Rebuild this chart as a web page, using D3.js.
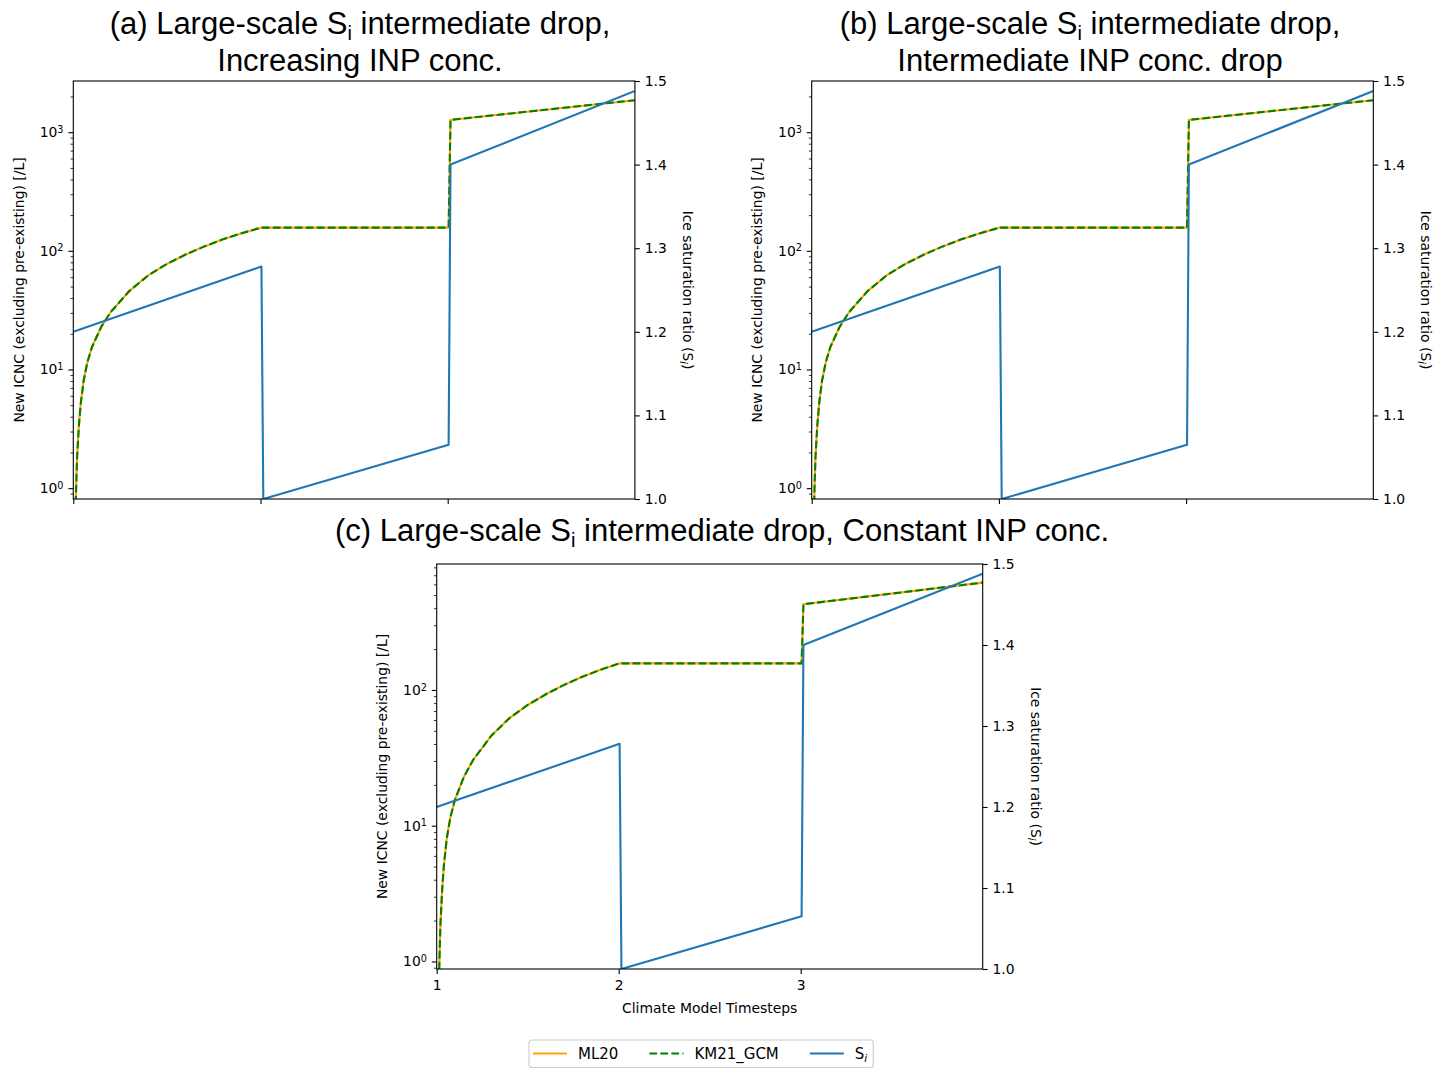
<!DOCTYPE html>
<html>
<head>
<meta charset="utf-8">
<script src="https://cdn.jsdelivr.net/npm/d3@7"></script>
<style>
  body { margin: 0; background: #fff; }
  svg { display: block; }
</style>
</head>
<body>
<script>
// climate model timesteps (x axis)
const timeTicks = [1, 2, 3];
const timeDomain = [1, 4];

// large-scale ice saturation ratio S_i (same forcing in all three cases)
const siTime = [1.0, 2.005, 2.015, 3.005, 3.015, 4.0];
const siValues = [1.200, 1.278, 1.000, 1.065, 1.400, 1.488];
const siTicks = [1.0, 1.1, 1.2, 1.3, 1.4, 1.5];

// new ICNC [/L], sample times
const icncTime = [1.012, 1.015, 1.02, 1.03, 1.04, 1.055, 1.075, 1.1, 1.15, 1.2,
                  1.3, 1.4, 1.5, 1.6, 1.7, 1.8, 1.9, 2.005, 3.005, 3.015, 4.0];
// (a) increasing INP conc. / (b) intermediate INP conc. drop
const ml20AB = [0.6, 1.0, 1.8, 3.4, 5.2, 8.0, 11.5, 15.5, 23, 30.5,
                46, 62, 77.5, 93, 109, 125, 141, 157, 157, 1270, 1860];
const km21AB = [0.6, 1.0, 1.8, 3.4, 5.2, 8.0, 11.5, 15.5, 23, 30.5,
                46, 62, 77.5, 93, 109, 125, 141, 157, 157, 1270, 1860];
// (c) constant INP conc.
const ml20C = [0.6, 1.0, 1.8, 3.4, 5.2, 8.0, 11.5, 15.5, 23, 30.5,
               46, 62, 77.5, 93, 109, 125, 141, 157, 157, 428, 618];
const km21C = [0.6, 1.0, 1.8, 3.4, 5.2, 8.0, 11.5, 15.5, 23, 30.5,
               46, 62, 77.5, 93, 109, 125, 141, 157, 157, 428, 618];

const legendLabels = ["ML20", "KM21_GCM", "S"];

const colors = { ml20: "#ffa500", km21: "#008000", si: "#1f77b4" };
const tickFont = "'DejaVu Sans', sans-serif";
const titleFont = "'Liberation Sans', Arial, Helvetica, sans-serif";
const lw = 2.1;

const panels = [
    {
        id: "a", left: 73.3, right: 634.9, top: 81, bottom: 499,
        yLim: [0.81, 2700], ml20: ml20AB, km21: km21AB,
        titleX: 360, titleY: [34, 71], xLabels: false,
        title: [
            [["(a) Large-scale S"], ["i", "sub"], [" intermediate drop,"]],
            [["Increasing INP conc."]]
        ]
    },
    {
        id: "b", left: 811.7, right: 1373.3, top: 81, bottom: 499,
        yLim: [0.81, 2700], ml20: ml20AB, km21: km21AB,
        titleX: 1090, titleY: [34, 71], xLabels: false,
        title: [
            [["(b) Large-scale S"], ["i", "sub"], [" intermediate drop,"]],
            [["Intermediate INP conc. drop"]]
        ]
    },
    {
        id: "c", left: 436.7, right: 982.7, top: 564, bottom: 969,
        yLim: [0.88, 847], ml20: ml20C, km21: km21C,
        titleX: 722, titleY: [541], xLabels: true,
        title: [
            [["(c) Large-scale S"], ["i", "sub"], [" intermediate drop, Constant INP conc."]]
        ]
    }
];

const svg = d3.select("body")
    .append("svg")
    .attr("width", 1446)
    .attr("height", 1082);

svg.append("rect")
    .attr("width", 1446)
    .attr("height", 1082)
    .attr("fill", "#fff");

function styleAxis(sel) {
    sel.select(".domain").remove();
    sel.selectAll(".tick line").attr("stroke", "#000").attr("stroke-width", 1.1);
    sel.selectAll(".tick text")
        .attr("fill", "#000")
        .attr("font-family", tickFont)
        .attr("font-size", 13.9);
}

function drawPanel(p) {
    const g = svg.append("g").attr("id", "panel-" + p.id);

    const x = d3.scaleLinear().domain(timeDomain).range([p.left, p.right]);
    const yL = d3.scaleLog().domain(p.yLim).range([p.bottom, p.top]);
    const yR = d3.scaleLinear().domain([1.0, 1.5]).range([p.bottom, p.top]);

    // clip lines to the axes box
    g.append("defs").append("clipPath").attr("id", "clip-" + p.id)
        .append("rect")
        .attr("x", p.left).attr("y", p.top)
        .attr("width", p.right - p.left)
        .attr("height", p.bottom - p.top);

    const plot = g.append("g").attr("clip-path", `url(#clip-${p.id})`);

    const icncLine = d3.line()
        .x((d, i) => x(icncTime[i]))
        .y(d => yL(d));
    plot.append("path")
        .datum(p.ml20)
        .attr("d", icncLine)
        .attr("fill", "none")
        .attr("stroke", colors.ml20)
        .attr("stroke-width", lw);
    plot.append("path")
        .datum(p.km21)
        .attr("d", icncLine)
        .attr("fill", "none")
        .attr("stroke", colors.km21)
        .attr("stroke-width", lw)
        .attr("stroke-dasharray", "7.7,3.3");

    // twin axis: S_i drawn on top
    const siLine = d3.line()
        .x((d, i) => x(siTime[i]))
        .y(d => yR(d));
    plot.append("path")
        .datum(siValues)
        .attr("d", siLine)
        .attr("fill", "none")
        .attr("stroke", colors.si)
        .attr("stroke-width", lw)
        .attr("stroke-linejoin", "round");

    // log ticks: majors at decades, minors in between
    const allTicks = yL.ticks();
    const majors = allTicks.filter(d => Math.abs(Math.log10(d) - Math.round(Math.log10(d))) < 1e-9);
    const minors = allTicks.filter(d => !majors.includes(d));

    const minorAxis = g.append("g")
        .attr("transform", `translate(${p.left},0)`)
        .call(d3.axisLeft(yL).tickValues(minors).tickSize(2.8).tickSizeOuter(0).tickFormat(""));
    styleAxis(minorAxis);
    minorAxis.selectAll(".tick line").attr("stroke-width", 0.8);

    const leftAxis = g.append("g")
        .attr("transform", `translate(${p.left},0)`)
        .call(d3.axisLeft(yL).tickValues(majors).tickSize(4.9).tickSizeOuter(0).tickPadding(4.9));
    styleAxis(leftAxis);
    leftAxis.selectAll(".tick text")
        .text(null)
        .each(function (d) {
            const t = d3.select(this);
            t.append("tspan").text("10");
            t.append("tspan")
                .attr("dy", "-0.45em")
                .attr("font-size", 9.7)
                .text(Math.round(Math.log10(d)));
        });

    const rightAxis = g.append("g")
        .attr("transform", `translate(${p.right},0)`)
        .call(d3.axisRight(yR).tickValues(siTicks).tickSize(4.9).tickSizeOuter(0)
            .tickPadding(4.9).tickFormat(d3.format(".1f")));
    styleAxis(rightAxis);

    const bottomAxis = g.append("g")
        .attr("transform", `translate(0,${p.bottom})`)
        .call(d3.axisBottom(x).tickValues(timeTicks).tickSize(4.9).tickSizeOuter(0)
            .tickPadding(6).tickFormat(p.xLabels ? d3.format("d") : ""));
    styleAxis(bottomAxis);

    // spines
    g.append("rect")
        .attr("x", p.left).attr("y", p.top)
        .attr("width", p.right - p.left)
        .attr("height", p.bottom - p.top)
        .attr("fill", "none")
        .attr("stroke", "#000")
        .attr("stroke-width", 1.1);

    const midY = (p.top + p.bottom) / 2;

    // left label
    g.append("text")
        .attr("transform", `translate(${p.left - 49.5},${midY}) rotate(-90)`)
        .attr("text-anchor", "middle")
        .attr("font-family", tickFont)
        .attr("font-size", 13.9)
        .text("New ICNC (excluding pre-existing) [/L]");

    // right label
    const rl = g.append("text")
        .attr("transform", `translate(${p.right + 48},${midY}) rotate(90)`)
        .attr("text-anchor", "middle")
        .attr("font-family", tickFont)
        .attr("font-size", 13.9);
    rl.append("tspan").text("Ice saturation ratio (S");
    rl.append("tspan").attr("dy", 3).attr("font-size", 9.7).attr("font-style", "italic").text("i");
    rl.append("tspan").attr("dy", -3).text(")");

    if (p.xLabels) {
        g.append("text")
            .attr("x", (p.left + p.right) / 2)
            .attr("y", p.bottom + 43.7)
            .attr("text-anchor", "middle")
            .attr("font-family", tickFont)
            .attr("font-size", 13.9)
            .text("Climate Model Timesteps");
    }

    // title
    p.title.forEach((line, li) => {
        const t = g.append("text")
            .attr("x", p.titleX)
            .attr("y", p.titleY[li])
            .attr("text-anchor", "middle")
            .attr("font-family", titleFont)
            .attr("font-size", 31)
            .attr("fill", "#000");
        let shifted = false;
        line.forEach(seg => {
            const ts = t.append("tspan").text(seg[0]);
            if (seg[1] === "sub") {
                ts.attr("dy", 6).attr("font-size", 20);
                shifted = true;
            } else if (shifted) {
                ts.attr("dy", -6);
                shifted = false;
            }
        });
    });
}

panels.forEach(drawPanel);

// legend under panel (c)
function drawLegend() {
    const lg = svg.append("g").attr("id", "legend");
    const box = lg.append("rect")
        .attr("x", 529).attr("y", 1040)
        .attr("height", 27.5)
        .attr("rx", 3)
        .attr("fill", "#fff")
        .attr("stroke", "#cccccc")
        .attr("stroke-width", 1.1);

    const styles = [
        { color: colors.ml20, dash: null },
        { color: colors.km21, dash: "7.7,3.3" },
        { color: colors.si, dash: null }
    ];
    let cx = 533;
    const cy = 1053.5;
    legendLabels.forEach((label, i) => {
        lg.append("line")
            .attr("x1", cx).attr("x2", cx + 34)
            .attr("y1", cy).attr("y2", cy)
            .attr("stroke", styles[i].color)
            .attr("stroke-width", lw)
            .attr("stroke-dasharray", styles[i].dash);
        const t = lg.append("text")
            .attr("x", cx + 45)
            .attr("y", cy + 5.6)
            .attr("font-family", tickFont)
            .attr("font-size", 15);
        t.append("tspan").text(label);
        if (label === "S") {
            t.append("tspan").attr("dy", 3).attr("font-size", 10.5)
                .attr("font-style", "italic").text("i");
        }
        cx += 45 + t.node().getComputedTextLength() + 31;
    });
    box.attr("width", cx - 31 + 6 - 529);
}

drawLegend();
</script>
</body>
</html>
